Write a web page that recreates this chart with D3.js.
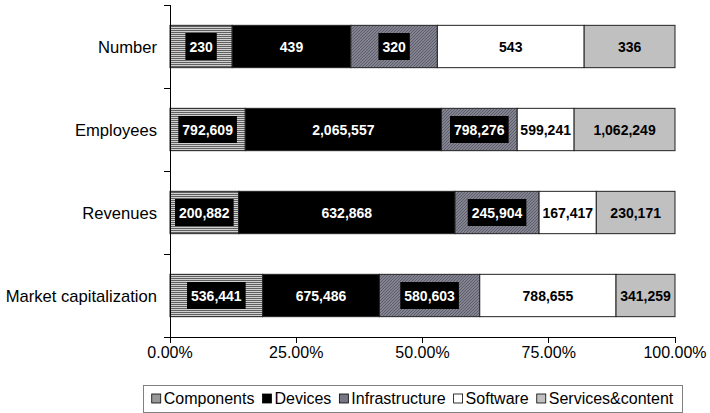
<!DOCTYPE html>
<html><head><meta charset="utf-8">
<script src="https://cdn.jsdelivr.net/npm/d3@7"></script>
<style>html,body{margin:0;padding:0;background:#fff;}svg{display:block;font-family:"Liberation Sans",Arial,sans-serif;}</style>
</head><body>
<svg id="chart" width="710" height="413"></svg>
<script>
const categories = ["Number", "Employees", "Revenues", "Market capitalization"];
const seriesNames = ["Components", "Devices", "Infrastructure", "Software", "Services&content"];
const components = [230, 792609, 200882, 536441];
const devices = [439, 2065557, 632868, 675486];
const infrastructure = [320, 798276, 245904, 580603];
const software = [543, 599241, 167417, 788655];
const services = [336, 1062249, 230171, 341259];
const xTicks = [0, 0.25, 0.5, 0.75, 1];

const seriesValues = [components, devices, infrastructure, software, services];
const fills = ["url(#pComp)", "#000000", "url(#pInfra)", "#ffffff", "#c0c0c0"];
const labelStyle = ["box", "white", "box", "black", "black"];

const svg = d3.select("#chart");
const defs = svg.append("defs");
const pc = defs.append("pattern").attr("id", "pComp").attr("patternUnits", "userSpaceOnUse").attr("width", 4).attr("height", 2);
pc.append("rect").attr("width", 4).attr("height", 2).attr("fill", "#d0d0d0");
pc.append("rect").attr("width", 4).attr("height", 1).attr("fill", "#606060");
const pi = defs.append("pattern").attr("id", "pInfra").attr("patternUnits", "userSpaceOnUse").attr("width", 3).attr("height", 3);
pi.append("rect").attr("width", 3).attr("height", 3).attr("fill", "#828290");
pi.append("path").attr("d", "M0,3 L3,0 M-1,1 L1,-1 M2,4 L4,2").attr("stroke", "#5a5a66").attr("stroke-width", 0.9);

const mLeft = 170, mRight = 675, mTop = 5, mBottom = 337;
const x = d3.scaleLinear().domain([0, 1]).range([mLeft, mRight]);
const y = d3.scaleBand().domain(categories).range([mTop, mBottom]).paddingInner(0.49).paddingOuter(0.245);
const yOuter = d3.scaleBand().domain(categories).range([mTop, mBottom]);

const data = categories.map((c, i) => {
  const vals = seriesValues.map(s => s[i]);
  const total = d3.sum(vals);
  let acc = 0;
  return vals.map((v, j) => { const s = { cat: c, j, v, x0: acc / total, x1: (acc + v) / total }; acc += v; return s; });
});

const g = svg.append("g");
data.forEach(row => {
  row.forEach(s => {
    g.append("rect").attr("x", x(s.x0)).attr("y", y(s.cat)).attr("width", x(s.x1) - x(s.x0)).attr("height", y.bandwidth())
      .attr("fill", fills[s.j]).attr("stroke", "#222").attr("stroke-width", 1);
  });
});
const fmt = d3.format(",");
data.forEach(row => {
  row.forEach(s => {
    const cx = (x(s.x0) + x(s.x1)) / 2, cy = y(s.cat) + y.bandwidth() / 2;
    const t = g.append("text").attr("x", cx).attr("y", cy + 5).attr("text-anchor", "middle")
      .attr("font-size", 14).attr("font-weight", "bold").text(fmt(s.v))
      .attr("fill", labelStyle[s.j] === "black" ? "#000" : "#fff");
    if (labelStyle[s.j] === "box") {
      const w = t.node().getComputedTextLength();
      g.insert("rect", function () { return t.node(); }).attr("x", cx - w / 2 - 4).attr("y", cy - 13.5).attr("width", w + 8).attr("height", 27).attr("fill", "#000");
    }
  });
});

const ax = svg.append("g").attr("stroke", "#000").attr("stroke-width", 1).attr("shape-rendering", "crispEdges");
ax.append("line").attr("x1", mLeft).attr("x2", mLeft).attr("y1", mTop).attr("y2", mBottom);
ax.append("line").attr("x1", mLeft - 6).attr("x2", mRight).attr("y1", mBottom).attr("y2", mBottom);
categories.forEach(c => {
  ax.append("line").attr("x1", mLeft - 6).attr("x2", mLeft).attr("y1", yOuter(c)).attr("y2", yOuter(c));
});
xTicks.forEach(t => {
  ax.append("line").attr("x1", x(t)).attr("x2", x(t)).attr("y1", mBottom).attr("y2", mBottom + 6);
});
svg.append("g").selectAll("text").data(xTicks).join("text")
  .attr("x", d => x(d)).attr("y", mBottom + 21).attr("text-anchor", "middle").attr("font-size", 16).attr("fill", "#000")
  .text(d => d3.format(".2%")(d));
svg.append("g").selectAll("text").data(categories).join("text")
  .attr("x", mLeft - 13).attr("y", d => yOuter(d) + yOuter.bandwidth() / 2 + 6).attr("text-anchor", "end").attr("font-size", 16.6).attr("fill", "#000")
  .text(d => d);

const lg = svg.append("g");
const lgBox = lg.append("rect").attr("fill", "#fff").attr("stroke", "#808080").attr("shape-rendering", "crispEdges");
let lx = 0;
const items = lg.append("g");
seriesNames.forEach((n, j) => {
  items.append("rect").attr("x", lx).attr("y", -4.5).attr("width", 9).attr("height", 9).attr("fill", fills[j]).attr("stroke", "#000").attr("stroke-width", 0.8);
  const t = items.append("text").attr("x", lx + 12).attr("y", 5.5).attr("font-size", 16).attr("fill", "#000").text(n);
  lx += 12 + t.node().getComputedTextLength() + 8;
});
lx -= 8;
const boxL = 143, boxR = 682, boxT = 385, boxB = 412;
items.attr("transform", `translate(${(boxL + boxR) / 2 - lx / 2},${(boxT + boxB) / 2})`);
lgBox.attr("x", boxL + 0.5).attr("y", boxT + 0.5).attr("width", boxR - boxL).attr("height", boxB - boxT);
</script>
</body></html>
